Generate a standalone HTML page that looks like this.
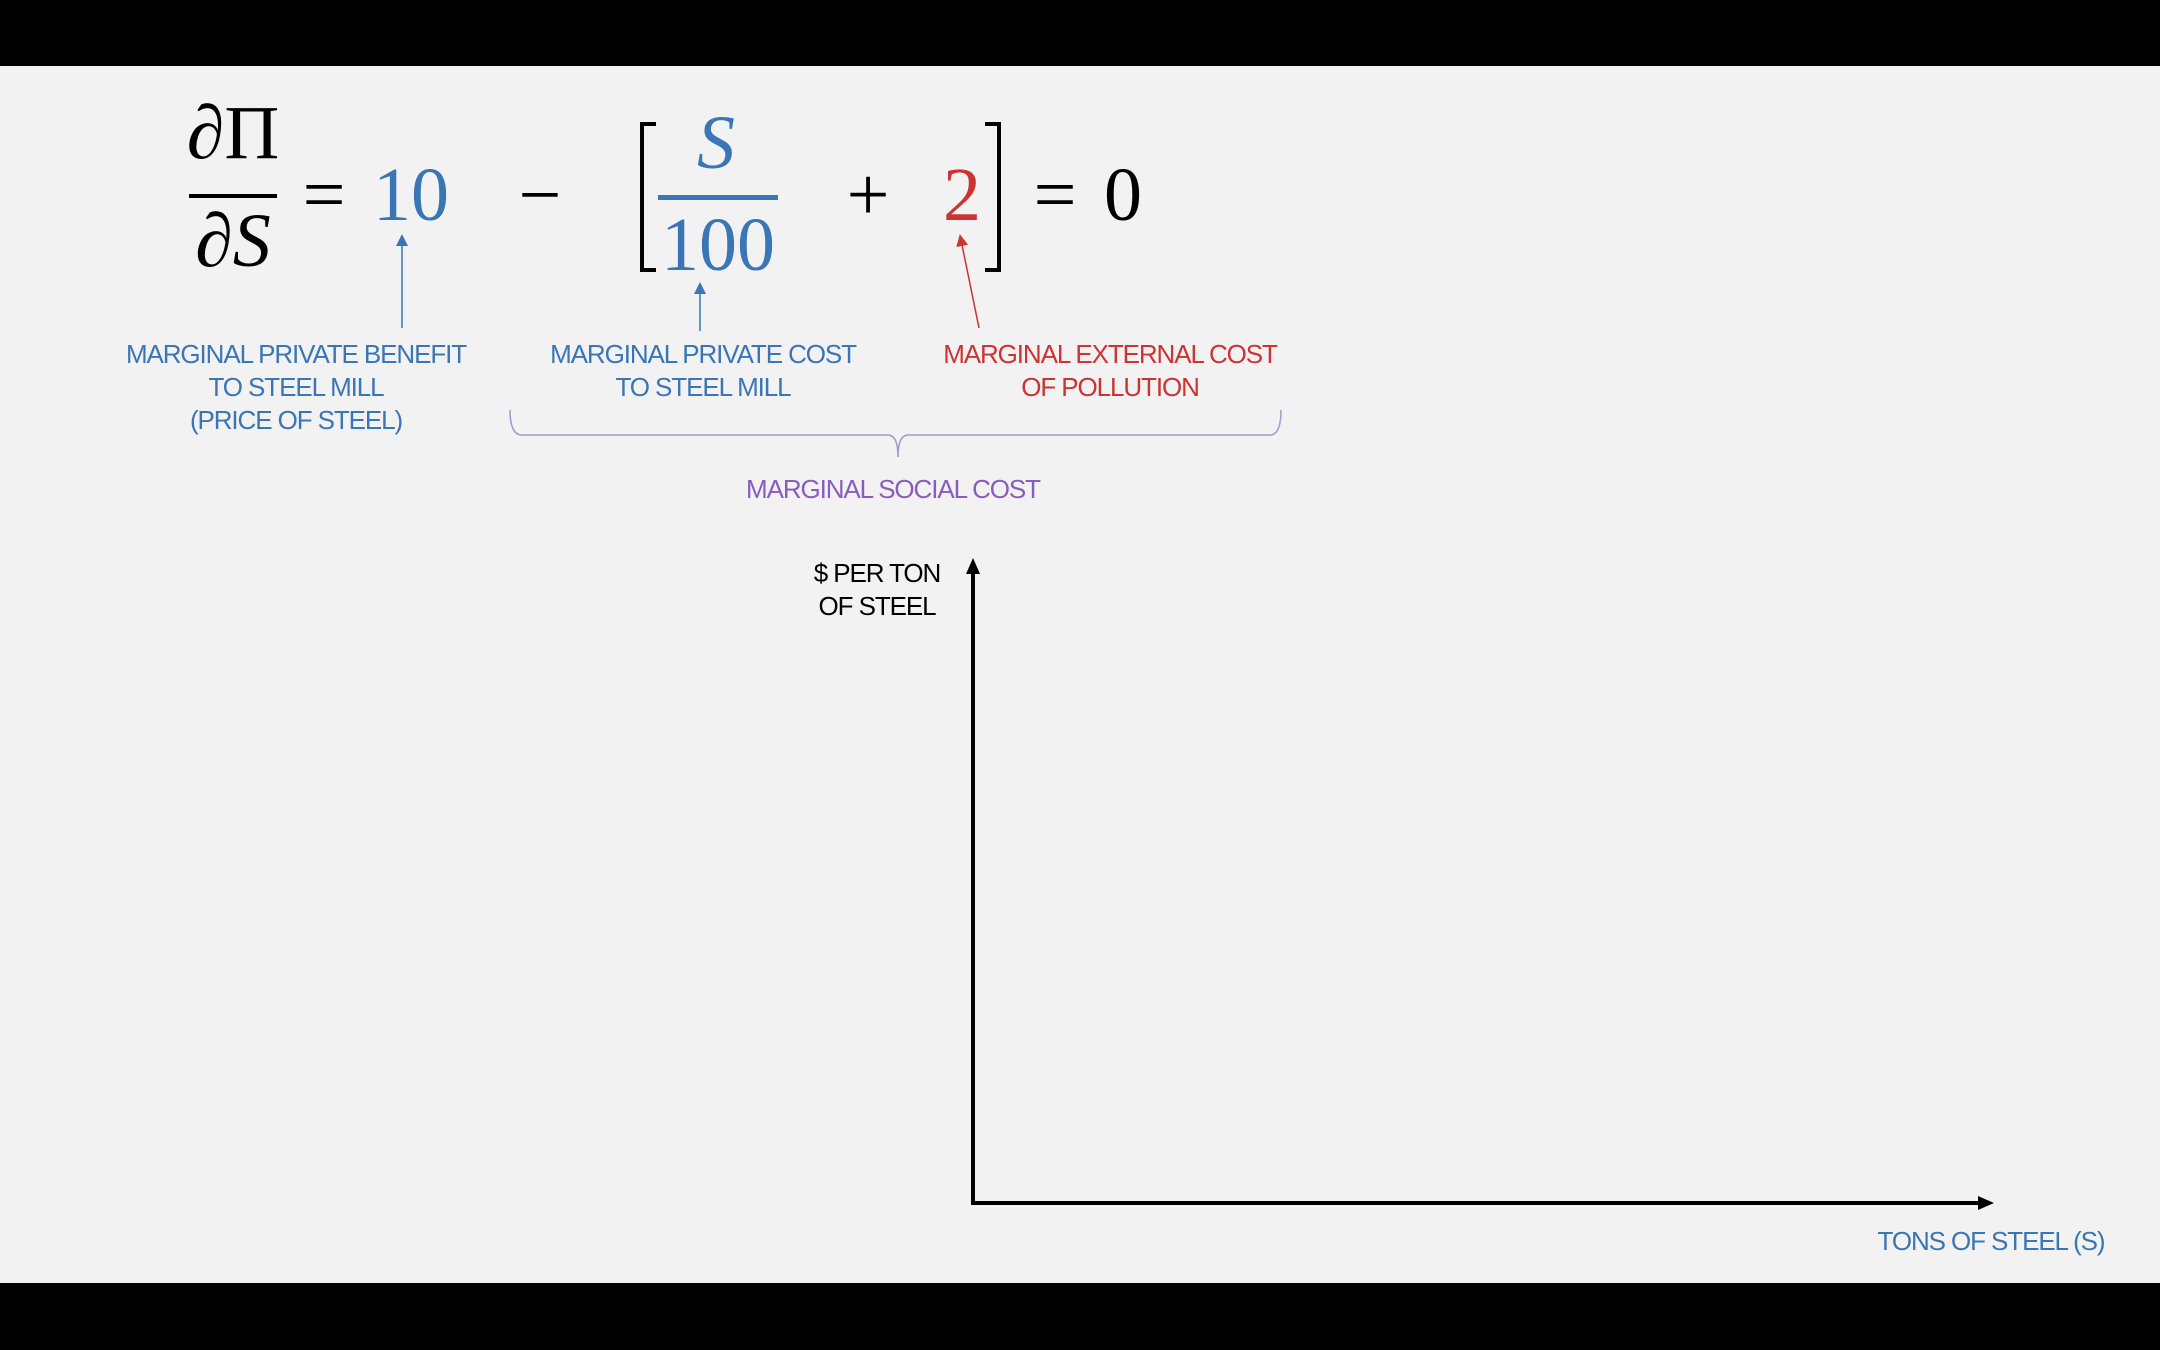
<!DOCTYPE html>
<html><head><meta charset="utf-8"><style>
html,body{margin:0;padding:0;background:#000;}
svg{display:block}
.m{font-family:"Liberation Serif","DejaVu Serif",serif;font-size:76px;}
.l{font-family:"Liberation Sans",sans-serif;font-size:26px;letter-spacing:-1.1px;}
</style></head><body>
<svg width="2160" height="1350" viewBox="0 0 2160 1350" xmlns="http://www.w3.org/2000/svg">
<defs>
<marker id="ab" markerWidth="8" markerHeight="8" refX="4" refY="4" orient="auto"><path d="M0,0 L8,4 L0,8 z" fill="#3a75b5"/></marker>
<marker id="ar" markerWidth="8" markerHeight="8" refX="4" refY="4" orient="auto"><path d="M0,0 L8,4 L0,8 z" fill="#cc3333"/></marker>
<marker id="ak" markerUnits="userSpaceOnUse" markerWidth="16" markerHeight="14" refX="4" refY="7" orient="auto"><path d="M0,0 L16,7 L0,14 z" fill="#000"/></marker>
</defs>
<rect x="0" y="0" width="2160" height="1350" fill="#000"/>
<rect x="0" y="66" width="2160" height="1217" fill="#f2f2f2"/>
<text class="m" x="233" y="158" text-anchor="middle">∂Π</text>
<rect x="189" y="194" width="88" height="4" fill="#000"/>
<text class="m" x="233" y="266" text-anchor="middle">∂<tspan font-style="italic">S</tspan></text>
<text class="m" x="324" y="220" text-anchor="middle">=</text>
<text class="m" x="411" y="220" text-anchor="middle" fill="#3a75b5">10</text>
<text class="m" x="540" y="220" text-anchor="middle">−</text>
<path d="M656,124 L642,124 L642,270 L656,270" fill="none" stroke="#000" stroke-width="4"/>
<text class="m" x="716" y="168" text-anchor="middle" fill="#3a75b5" font-style="italic">S</text>
<rect x="658" y="195" width="120" height="5" fill="#3a75b5"/>
<text class="m" x="718" y="270" text-anchor="middle" fill="#3a75b5">100</text>
<text class="m" x="868" y="220" text-anchor="middle">+</text>
<text class="m" x="962" y="220" text-anchor="middle" fill="#cc3333">2</text>
<path d="M985,124 L999,124 L999,270 L985,270" fill="none" stroke="#000" stroke-width="4"/>
<text class="m" x="1055" y="220" text-anchor="middle">=</text>
<text class="m" x="1123" y="220" text-anchor="middle">0</text>
<line x1="402" y1="328" x2="402" y2="240" stroke="#3a75b5" stroke-width="1.5" marker-end="url(#ab)"/>
<line x1="700" y1="331" x2="700" y2="288" stroke="#3a75b5" stroke-width="1.5" marker-end="url(#ab)"/>
<line x1="979" y1="328" x2="961" y2="240" stroke="#cc3333" stroke-width="1.5" marker-end="url(#ar)"/>
<g class="l" fill="#3a75b5" text-anchor="middle">
<text x="296" y="363">MARGINAL PRIVATE BENEFIT</text>
<text x="296" y="396">TO STEEL MILL</text>
<text x="296" y="429">(PRICE OF STEEL)</text>
<text x="703" y="363">MARGINAL PRIVATE COST</text>
<text x="703" y="396">TO STEEL MILL</text>
<text x="1991" y="1250">TONS OF STEEL (S)</text>
</g>
<g class="l" fill="#cc3333" text-anchor="middle">
<text x="1110" y="363">MARGINAL EXTERNAL COST</text>
<text x="1110" y="396">OF POLLUTION</text>
</g>
<path d="M510,410 Q510,435 522,435 L888,435 Q898,435 898,457 Q898,435 908,435 L1270,435 Q1281,435 1281,410" fill="none" stroke="#a895d0" stroke-width="1.5"/>
<text class="l" x="893" y="498" text-anchor="middle" fill="#8a5cbf">MARGINAL SOCIAL COST</text>
<g class="l" fill="#000" text-anchor="middle">
<text x="877" y="582">$ PER TON</text>
<text x="877" y="615">OF STEEL</text>
</g>
<line x1="973" y1="1203" x2="973" y2="570" stroke="#000" stroke-width="4" marker-end="url(#ak)"/>
<line x1="971" y1="1203" x2="1982" y2="1203" stroke="#000" stroke-width="4" marker-end="url(#ak)"/>
</svg>
</body></html>
